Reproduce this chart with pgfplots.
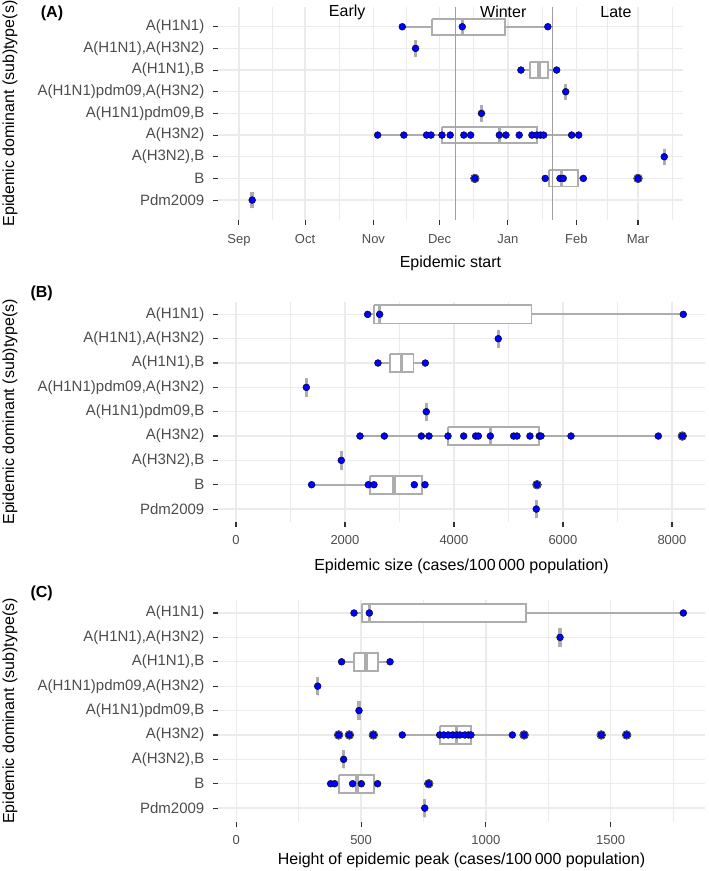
\documentclass[border=0pt]{standalone}
\usepackage{fontspec}
\setmainfont{Liberation Sans}
\usepackage{pgfplots}
\pgfplotsset{compat=1.18}
\definecolor{gridgrey}{HTML}{EBEBEB}
\definecolor{boxgrey}{HTML}{ADADAD}
\definecolor{tickgrey}{HTML}{4D4D4D}
\definecolor{tickmark}{HTML}{333333}
\definecolor{vgrey}{HTML}{A0A0A0}
\definecolor{ptblue}{HTML}{0000FF}
\pgfplotsset{
  panel/.style={
    scale only axis, anchor=north west,
    y dir=reverse, ytick={1,2,3,4,5,6,7,8,9},
    yticklabels={A(H1N1),{A(H1N1),A(H3N2)},{A(H1N1),B},{A(H1N1)pdm09,A(H3N2)},{A(H1N1)pdm09,B},A(H3N2),{A(H3N2),B},B,Pdm2009},
    axis lines*=left, axis line style={draw=none},
    tick align=outside, major tick length=5pt, minor tick length=0pt,
    tick style={draw=tickmark, line width=1.1pt},
    grid=both,
    major grid style={draw=gridgrey, line width=1.3pt},
    minor grid style={draw=gridgrey, line width=0.6pt},
    yticklabel style={font=\fontsize{15}{18}\selectfont, text=tickgrey, anchor=east, inner sep=0pt, xshift=-8.5pt},
    xticklabel style={font=\fontsize{13}{15}\selectfont, text=tickgrey, anchor=north, inner sep=0pt, yshift=-9pt},
    label style={font=\fontsize{16}{19}\selectfont},
    /pgf/number format/assume math mode=true,
    /pgf/number format/1000 sep={},
    clip mode=individual,
  },
  bline/.style={draw=boxgrey, line width=1.9pt, line join=miter},
  pts/.style={only marks, mark=*, mark size=3.45pt, mark options={draw=none, fill=ptblue}},
  outl/.style={only marks, mark=*, mark size=4.4pt, mark options={draw=none, fill=boxgrey, fill opacity=0.85}},
}
% box: {position}{lower whisker}{lower quartile}{median}{upper quartile}{upper whisker}
\newcommand{\bxp}[6]{%
  \pgfmathsetmacro{\ylo}{#1-0.375}\pgfmathsetmacro{\yhi}{#1+0.375}%
  \addplot[bline] coordinates {(#2,#1) (#3,#1)};
  \addplot[bline] coordinates {(#5,#1) (#6,#1)};
  \addplot[bline, fill=white] coordinates {(#3,\ylo) (#5,\ylo) (#5,\yhi) (#3,\yhi) (#3,\ylo)};
  \addplot[bline, line width=3.5pt] coordinates {(#4,\ylo) (#4,\yhi)};
}
\begin{document}
\begin{tikzpicture}
\useasboundingbox (0,0) rectangle (709pt,-871pt);
% ---------------- Panel A ----------------
\begin{axis}[panel, at={(218pt,-7pt)}, width=465pt, height=213pt,
  xmin=-9.5, xmax=201.4, ymin=0.09, ymax=9.92,
  xtick={0,30,61,91,122,153,181}, xticklabels={Sep,Oct,Nov,Dec,Jan,Feb,Mar},
  minor xtick={15,45.5,76,106.5,137.5,167,196.5},
  xlabel={Epidemic start}, xlabel style={at={(axis description cs:0.5,-0.202)}, anchor=center},
  ylabel={Epidemic dominant (sub)type(s)}, ylabel style={at={(axis description cs:-0.4473,0.5)}, anchor=center}]
\bxp{1}{74.1}{87.7}{101.3}{120.7}{140.1}
\bxp{2}{80.1}{80.1}{80.1}{80.1}{80.1}
\bxp{3}{127.9}{131.9}{136.0}{140.1}{144.1}
\bxp{4}{148.2}{148.2}{148.2}{148.2}{148.2}
\bxp{5}{110.0}{110.0}{110.0}{110.0}{110.0}
\bxp{6}{62.9}{92.1}{118.1}{135.1}{154.1}
\bxp{7}{192.9}{192.9}{192.9}{192.9}{192.9}
\bxp{8}{138.9}{140.6}{146.4}{153.9}{156.2}
\bxp{9}{6.0}{6.0}{6.0}{6.0}{6.0}
\addplot[vgrey, line width=1pt] coordinates {(98.1,0.09) (98.1,9.92)};
\addplot[vgrey, line width=1pt] coordinates {(142.0,0.09) (142.0,9.92)};
\addplot[outl] coordinates {(107.0,8) (181.0,8)};
\addplot[pts] coordinates {
(74.1,1) (101.3,1) (140.1,1)
(80.1,2)
(127.9,3) (144.1,3)
(148.2,4)
(110.0,5)
(62.9,6) (74.8,6) (85.1,6) (87.1,6) (92.1,6) (95.8,6) (102.0,6) (105.1,6) (118.1,6) (121.1,6) (127.1,6) (132.9,6) (135.1,6) (136.7,6) (138.2,6) (150.9,6) (154.1,6)
(192.9,7)
(107.0,8) (138.9,8) (145.6,8) (147.1,8) (156.2,8) (181.0,8)
(6.0,9)};
\node[font=\fontsize{16}{19}\selectfont] at (axis cs:49.1,0.32) {Early};
\node[font=\fontsize{16}{19}\selectfont] at (axis cs:119.9,0.32) {Winter};
\node[font=\fontsize{16}{19}\selectfont] at (axis cs:171,0.32) {Late};
\end{axis}
\node[font=\fontsize{16}{19}\selectfont\bfseries] at (52pt,-13pt) {(A)};
% ---------------- Panel B ----------------
\begin{axis}[panel, at={(218pt,-301.7pt)}, width=487pt, height=220pt,
  xmin=-330, xmax=8606, ymin=0.48, ymax=9.52,
  xtick={0,2000,4000,6000,8000}, minor xtick={1000,3000,5000,7000},
  xlabel={Epidemic size (cases/100\,000 population)}, xlabel style={at={(axis description cs:0.5,-0.2014)}, anchor=center},
  ylabel={Epidemic dominant (sub)type(s)}, ylabel style={at={(axis description cs:-0.4271,0.5)}, anchor=center}]
\bxp{1}{2416}{2526}{2636}{5422}{8208}
\bxp{2}{4813}{4813}{4813}{4813}{4813}
\bxp{3}{2605}{2822}{3040}{3257}{3474}
\bxp{4}{1291}{1291}{1291}{1291}{1291}
\bxp{5}{3492}{3492}{3492}{3492}{3492}
\bxp{6}{2275}{3890}{4667}{5565}{7749}
\bxp{7}{1933}{1933}{1933}{1933}{1933}
\bxp{8}{1388}{2454}{2902}{3419}{3468}
\bxp{9}{5510}{5510}{5510}{5510}{5510}
\addplot[outl] coordinates {(8190,6) (5523,8)};
\addplot[pts] coordinates {
(2416,1) (2636,1) (8208,1)
(4813,2)
(2605,3) (3474,3)
(1291,4)
(3492,5)
(2275,6) (2722,6) (3401,6) (3541,6) (3890,6) (4178,6) (4398,6) (4447,6) (4667,6) (5095,6) (5156,6) (5394,6) (5565,6) (5596,6) (6147,6) (7749,6) (8190,6)
(1933,7)
(1388,8) (2428,8) (2532,8) (3272,8) (3468,8) (5523,8)
(5510,9)};
\end{axis}
\node[font=\fontsize{16}{19}\selectfont\bfseries] at (41.7pt,-293pt) {(B)};
% ---------------- Panel C ----------------
\begin{axis}[panel, at={(218pt,-600pt)}, width=487pt, height=222pt,
  xmin=-73.3, xmax=1877.8, ymin=0.467, ymax=9.57,
  xtick={0,500,1000,1500}, minor xtick={250,750,1250,1750},
  xticklabel style={yshift=1pt},
  xlabel={Height of epidemic peak (cases/100\,000 population)}, xlabel style={at={(axis description cs:0.5,-0.1743)}, anchor=center},
  ylabel={Epidemic dominant (sub)type(s)}, ylabel style={at={(axis description cs:-0.4271,0.5)}, anchor=center}]
\bxp{1}{471.6}{502.3}{533}{1162}{1791}
\bxp{2}{1297}{1297}{1297}{1297}{1297}
\bxp{3}{422}{470.5}{519}{567.5}{616}
\bxp{4}{326}{326}{326}{326}{326}
\bxp{5}{491.6}{491.6}{491.6}{491.6}{491.6}
\bxp{6}{665}{815}{883}{940}{1106}
\bxp{7}{430}{430}{430}{430}{430}
\bxp{8}{378}{412}{483.5}{550}{566}
\bxp{9}{755}{755}{755}{755}{755}
\addplot[outl] coordinates {(410,6) (453,6) (549,6) (1153,6) (1462,6) (1564,6) (771,8)};
\addplot[pts] coordinates {
(471.6,1) (533,1) (1791,1)
(1297,2)
(422,3) (616,3)
(326,4)
(491.6,5)
(410,6) (453,6) (549,6) (665,6) (815,6) (831,6) (849,6) (867,6) (883,6) (896,6) (916,6) (930,6) (940,6) (1106,6) (1153,6) (1462,6) (1564,6)
(430,7)
(378,8) (394,8) (466,8) (501,8) (566,8) (771,8)
(755,9)};
\end{axis}
\node[font=\fontsize{16}{19}\selectfont\bfseries] at (41.7pt,-593pt) {(C)};
\end{tikzpicture}
\end{document}
